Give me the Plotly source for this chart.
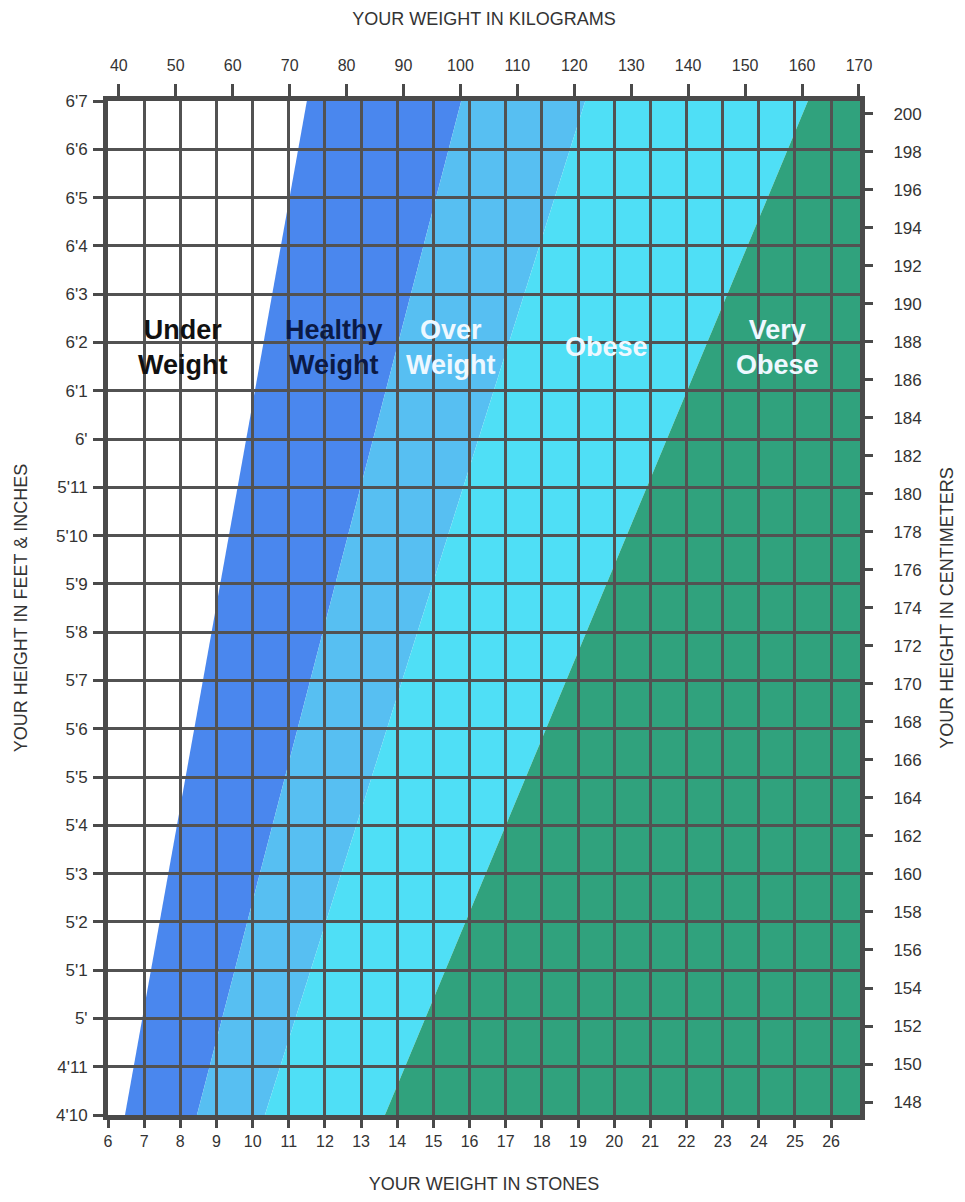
import plotly.graph_objects as go

# ---------------- data ----------------
stone_ticks = list(range(6, 27))
kg_ticks = list(range(40, 171, 10))
height_inches = list(range(58, 80))
height_labels = ["4'10", "4'11", "5'", "5'1", "5'2", "5'3", "5'4", "5'5", "5'6", "5'7",
                 "5'8", "5'9", "5'10", "5'11", "6'", "6'1", "6'2", "6'3", "6'4", "6'5",
                 "6'6", "6'7"]
cm_ticks = list(range(148, 201, 2))

band_names = ["Healthy Weight", "Over Weight", "Obese", "Very Obese"]
# lower-edge weight (stones) of each band at 4'10 and at 6'7
band_start_bottom = [6.47, 8.46, 10.34, 13.66]
band_start_top = [11.50, 15.77, 19.20, 25.36]
band_colors = ["#4a87ee", "#57bff2", "#4fdff6", "#30a27d"]

STONE_TO_KG = 6.35
INCH_TO_CM = 2.54
X_MIN, X_MAX = 6.0, 26.8
Y_MIN, Y_MAX = 58.0, 79.0

grid_col = "#525252"
frame_col = "#4a4a4a"
font_fam = "Liberation Sans Narrow, Arial Narrow, Liberation Sans, Arial"
tick_font = dict(family=font_fam, size=16, color="#333333")
ytick_font = dict(family=font_fam, size=17, color="#333333")
title_font = dict(family=font_fam, size=18, color="#333333")

fig = go.Figure()

# band shapes (below gridlines)
shapes = []
for i, name in enumerate(band_names):
    lb, lt = band_start_bottom[i], band_start_top[i]
    if i + 1 < len(band_names):
        rb, rt = band_start_bottom[i + 1], band_start_top[i + 1]
        path = f"M {lb},{Y_MIN} L {rb},{Y_MIN} L {rt},{Y_MAX} L {lt},{Y_MAX} Z"
    else:
        path = f"M {lb},{Y_MIN} L {X_MAX},{Y_MIN} L {X_MAX},{Y_MAX} L {lt},{Y_MAX} Z"
    shapes.append(dict(type="path", path=path, xref="x", yref="y", layer="below",
                       fillcolor=band_colors[i], line=dict(width=0)))

# base trace on primary axes (invisible)
fig.add_trace(go.Scatter(x=[X_MIN, X_MAX], y=[Y_MIN, Y_MAX], mode="markers",
                         marker=dict(opacity=0), hoverinfo="skip", showlegend=False,
                         xaxis="x", yaxis="y"))
# trace on secondary axes (kg / cm) so they are drawn
fig.add_trace(go.Scatter(x=[X_MIN * STONE_TO_KG, X_MAX * STONE_TO_KG],
                         y=[Y_MIN * INCH_TO_CM, Y_MAX * INCH_TO_CM], mode="markers",
                         marker=dict(opacity=0), hoverinfo="skip", showlegend=False,
                         xaxis="x2", yaxis="y2"))

common = dict(showline=True, linewidth=5, linecolor=frame_col, ticks="outside",
              tickwidth=3, tickcolor=frame_col, zeroline=False, automargin=False)

# the page body has an 8px margin, so the figure is sized to fit inside it
fig.update_layout(
    width=949, height=1186, autosize=False,
    margin=dict(l=100, r=97, t=93, b=79),
    paper_bgcolor="white", plot_bgcolor="white",
    showlegend=False,
    shapes=shapes,
    xaxis=dict(range=[X_MIN, X_MAX], tickvals=stone_ticks, ticklen=8, tickfont=tick_font,
               showgrid=True, gridcolor=grid_col, gridwidth=3,
               title=dict(text="YOUR WEIGHT IN STONES", font=title_font, standoff=30),
               side="bottom", **common),
    xaxis2=dict(range=[X_MIN * STONE_TO_KG, X_MAX * STONE_TO_KG], tickvals=kg_ticks,
                tickfont=tick_font,
                ticklen=12, overlaying="x", side="top", showgrid=False, ticklabelstandoff=7,
                title=dict(text="YOUR WEIGHT IN KILOGRAMS", font=title_font, standoff=28),
                **common),
    yaxis=dict(range=[Y_MIN, Y_MAX], tickvals=height_inches, ticktext=height_labels,
               tickfont=ytick_font,
               ticklen=10, showgrid=True, gridcolor=grid_col, gridwidth=3, ticklabelstandoff=2,
               title=dict(text="YOUR HEIGHT IN FEET & INCHES", font=title_font, standoff=25),
               side="left", **common),
    yaxis2=dict(range=[Y_MIN * INCH_TO_CM, Y_MAX * INCH_TO_CM], tickvals=cm_ticks,
                tickfont=ytick_font,
                ticklen=8, overlaying="y", side="right", showgrid=False, ticklabelstandoff=17,
                title=dict(text="YOUR HEIGHT IN CENTIMETERS", font=title_font, standoff=30),
                **common),
)

label_font = "Liberation Sans, Arial, sans-serif"
labels = [
    ("<b>Under<br>Weight</b>", 8.07, 73.9, "#111111"),
    ("<b>Healthy<br>Weight</b>", 12.25, 73.9, "#0b1a45"),
    ("<b>Over<br>Weight</b>", 15.5, 73.9, "#eef8ff"),
    ("<b>Obese</b>", 19.78, 73.9, "#eef8ff"),
    ("<b>Very<br>Obese</b>", 24.53, 73.9, "#eef8ff"),
]
for text, x, y, col in labels:
    fig.add_annotation(x=x, y=y, xref="x", yref="y", text=text, showarrow=False,
                       font=dict(family=label_font, size=27, color=col),
                       align="center")

fig.write_html("out.html")
